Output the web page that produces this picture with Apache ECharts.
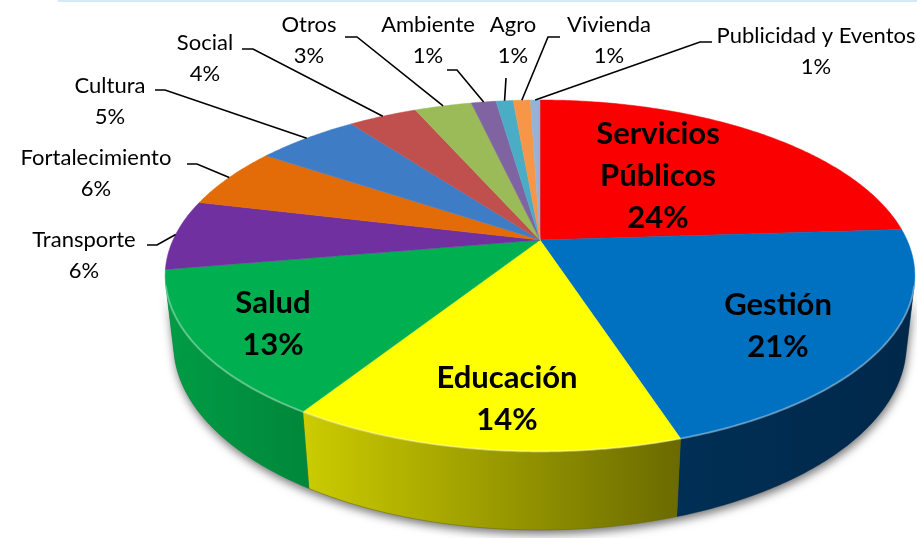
<!DOCTYPE html>
<html><head><meta charset="utf-8">
<script src="https://cdn.jsdelivr.net/npm/echarts@6/dist/echarts.min.js"></script>
<style>html,body{margin:0;padding:0;background:#fff}#c{width:917px;height:538px}</style>
</head><body><div id="c"></div><script>
// ---- data ----
const categories = ['Servicios Públicos','Gestión','Educación','Salud','Transporte','Fortalecimiento','Cultura','Social','Otros','Ambiente','Agro','Vivienda','Publicidad y Eventos'];
const values = [24, 21, 14, 13.3, 6.45, 5.65, 5.4, 3.6, 3.0, 1.3, 0.9, 0.9, 0.5];
const bigLabels = [true, true, true, true, false, false, false, false, false, false, false, false, false];

// ---- styles ----
const topColors = ['#fb0000','#0070c0','#ffff00','#00b050','#7030a0','#e36c09','#3f7cc6','#c0504d','#9bbb59','#8064a2','#4bacc6','#f79646','#95b3d7'];
const wallColors = [['#c00000','#a00000'],['#002f55','#00284a'],['#cccc00','#6a6a00'],['#009c45','#00873a'],['#55247a','#4a1f6a'],['#b05206','#9a4805'],['#2f5f9a','#284f82'],['#9a3d3b','#853433'],['#7a9445','#6a823c'],['#634e80','#574470'],['#3a8aa0','#32788c'],['#c47430','#ad6628'],['#7590b0','#667f9c']];
// label layout: centre of text block and leader line start/elbow
const labelLayout = [
  {x:658, y:176}, {x:778, y:326}, {x:507, y:399}, {x:273, y:324},
  {x:84, y:255, line:[[147,245],[157,245]]},
  {x:96, y:173, line:[[187,164],[197,164]]},
  {x:110, y:101, line:[[155,90],[165,90]]},
  {x:205, y:58, line:[[242,49],[253,49]]},
  {x:309, y:40, line:[[345,37],[357,37]]},
  {x:428, y:40, line:[[447,70],[457,70]]},
  {x:513, y:40, line:[[506,78],[506,78]]},
  {x:609, y:40, line:[[560,37],[548,37]]},
  {x:816, y:51, line:[[712,42],[700,42]]}
];
// projection (perspective of a tilted disc)
const P = {cx:540, cy:240, k:367, D:4.37, s:0.459, c:0.888, h:0.212};

const total = values.reduce((a,b)=>a+b,0);
const starts = []; let acc = 0;
values.forEach(v=>{starts.push(acc); acc+=v;});
const seriesData = values.map((v,i)=>({name:categories[i], value:[v, starts[i], starts[i]+v]}));

function proj(X,Y,Z){
  const d = P.D + Z*P.c - Y*P.s;
  return [P.cx + P.k*X*P.D/d, P.cy - P.k*(Y*P.c + Z*P.s)*P.D/d];
}
function rim(phi, Y){ return proj(Math.sin(phi), Y, Math.cos(phi)); }
function arc(a0, a1, Y){
  const n = Math.max(2, Math.ceil(Math.abs(a1-a0)/0.01));
  const pts = [];
  for (let j=0;j<=n;j++){ pts.push(rim(a0+(a1-a0)*j/n, Y)); }
  return pts;
}
const toAng = f => f/total*Math.PI*2;
const phiMin = Math.acos(-1/(P.D*P.c));
const phiMax = Math.PI*2 - phiMin;

function renderShadow(params, api){
  if (params.dataIndex !== 0) return null;
  const top = arc(phiMin, phiMax, 0);
  const bot = arc(phiMax, phiMin, -P.h);
  return {type:'polygon', shape:{points: top.concat(bot)},
    style:{fill:'#888', shadowBlur:10, shadowColor:'rgba(0,0,0,0.55)', shadowOffsetY:4, shadowOffsetX:1}};
}
function renderWall(params, api){
  const i = params.dataIndex;
  let a0 = toAng(api.value(1)), a1 = toAng(api.value(2));
  a0 = Math.max(a0, phiMin); a1 = Math.min(a1, phiMax);
  if (a1 <= a0) return null;
  const top = arc(a0, a1, 0);
  const bot = arc(a1, a0, -P.h);
  const wc = wallColors[i];
  return {type:'polygon', shape:{points: top.concat(bot)},
    style:{fill: new echarts.graphic.LinearGradient(0,0,1,0,[{offset:0,color:wc[0]},{offset:1,color:wc[1]}]), stroke: wc[1], lineWidth:0.5}};
}
function renderTop(params, api){
  const i = params.dataIndex;
  const a0 = toAng(api.value(1)), a1 = toAng(api.value(2));
  const pts = [proj(0,0,0)].concat(arc(a0, a1, 0));
  const children = [{type:'polygon', shape:{points: pts}, style:{fill: topColors[i], stroke: topColors[i], lineWidth:0.5}}];
  const f0 = Math.max(a0, phiMin), f1 = Math.min(a1, phiMax);
  if (f1 > f0) {
    children.push({type:'polyline', shape:{points: arc(f0, f1, 0)}, style:{stroke:'rgba(255,255,255,0.35)', lineWidth:2, fill:null}});
  }
  return {type:'group', children};
}
function renderLabel(params, api){
  const i = params.dataIndex;
  const v = api.value(0);
  const pct = Math.round(+(v/total*100).toFixed(6)) + '%';
  const L = labelLayout[i];
  const name = categories[i];
  if (bigLabels[i]) {
    return {type:'text', x:L.x, y:L.y, style:{text: name.replace(' ', '\n') + '\n' + pct, fill:'#000',
      font:'bold 31px Lato', align:'center', verticalAlign:'middle', lineHeight:42}};
  }
  const mid = toAng((api.value(1)+api.value(2))/2);
  const end = rim(mid, 0);
  return {type:'group', children:[
    {type:'polyline', shape:{points:[L.line[0], L.line[1], end]}, style:{stroke:'#000', lineWidth:1.6, fill:null}},
    {type:'text', x:L.x, y:L.y, style:{text: name + '\n' + pct, fill:'#000', font:'22px Lato', align:'center', verticalAlign:'middle', lineHeight:31}}
  ]};
}

const chart = echarts.init(document.getElementById('c'), null, {renderer:'canvas'});
chart.setOption({
  backgroundColor:'#fff',
  animation:false,
  graphic:[{type:'line', shape:{x1:58, y1:1, x2:917, y2:1}, style:{stroke:'#d6eaf6', lineWidth:2}}],
  series:[
    {type:'custom', coordinateSystem:'none', renderItem:renderShadow, data:seriesData, z:1, silent:true},
    {type:'custom', coordinateSystem:'none', renderItem:renderWall, data:seriesData, z:2, silent:true},
    {type:'custom', coordinateSystem:'none', renderItem:renderTop, data:seriesData, z:3, silent:true},
    {type:'custom', coordinateSystem:'none', renderItem:renderLabel, data:seriesData, z:4, silent:true}
  ]
});
</script></body></html>
